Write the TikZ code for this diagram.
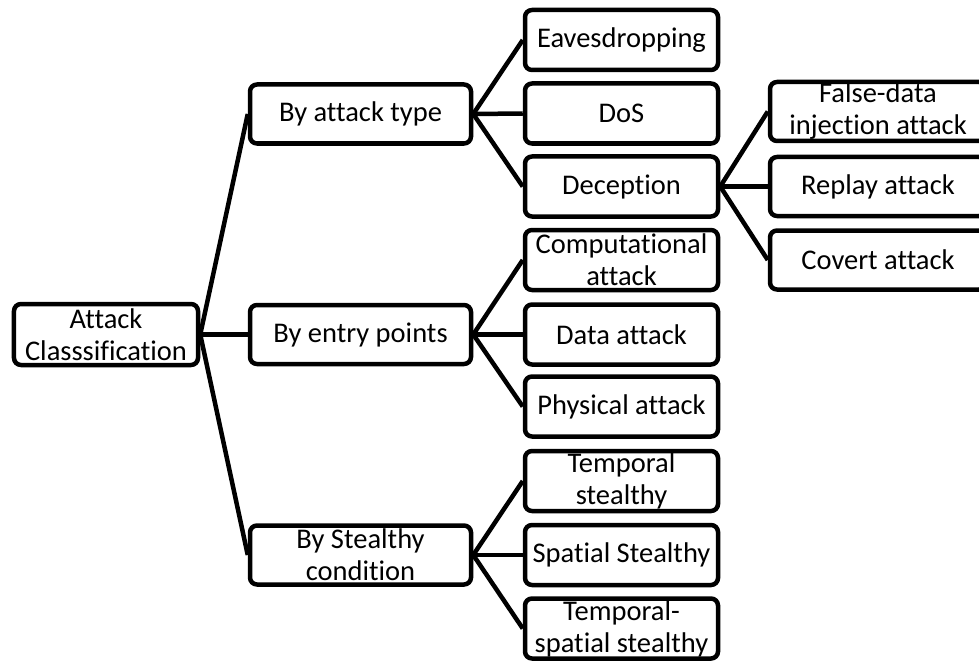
\documentclass[tikz,border=0pt]{standalone}
\usepackage{fontspec}
\setmainfont[Ligatures=NoCommon]{Carlito}
\begin{document}
\begin{tikzpicture}[x=1bp,y=-1bp,
  box/.style={draw=black, line width=4.5bp, rounded corners=7bp, fill=white,
    inner sep=0pt, align=center, font=\fontsize{28.5bp}{32bp}\selectfont},
  rootbox/.style={box, minimum width=184bp, minimum height=61bp},
  catbox/.style={box, minimum width=221bp, minimum height=59bp},
  leafbox/.style={box, minimum width=193bp, minimum height=60bp},
  subbox/.style={box, minimum width=216bp, minimum height=59bp},
  link/.style={line width=4.5bp, black}]
\useasboundingbox (0,0) rectangle (979,661);
\clip (0,0) rectangle (979,661);

% root
\node[rootbox] (root) at (106,334.5) {Attack\\Classsification};

% first level
\node[catbox] (type)  at (360.5,114)   {By attack type};
\node[catbox] (entry) at (360.5,334.5) {By entry points};
\node[catbox] (stl)   at (360.5,555)   {By Stealthy\\condition};

% attack types
\node[leafbox] (eav) at (621.5,40)    {Eavesdropping};
\node[leafbox] (dos) at (621.5,113.5) {DoS};
\node[leafbox] (dec) at (621.5,186.5) {Deception};

% entry points
\node[leafbox] (comp) at (621.5,260)   {Computational\\attack};
\node[leafbox] (data) at (621.5,334.5) {Data attack};
\node[leafbox] (phys) at (621.5,406.5) {Physical attack};

% stealthy conditions
\node[leafbox] (temp) at (621.5,481)   {Temporal\\stealthy};
\node[leafbox] (spat) at (621.5,555)   {Spatial Stealthy};
\node[leafbox] (tsp)  at (621.5,628.5) {Temporal-\\spatial stealthy};

% deception attacks
\node[subbox] (fdi) at (878,111.5) {False-data\\injection attack};
\node[subbox] (rep) at (878,186.5) {Replay attack};
\node[subbox] (cov) at (878,260)   {Covert attack};

% connectors
\foreach \c in {type,entry,stl} \draw[link] (root.east) -- (\c.west);
\foreach \c in {eav,dos,dec} \draw[link] (type.east) -- (\c.west);
\foreach \c in {comp,data,phys} \draw[link] (entry.east) -- (\c.west);
\foreach \c in {temp,spat,tsp} \draw[link] (stl.east) -- (\c.west);
\foreach \c in {fdi,rep,cov} \draw[link] (dec.east) -- (\c.west);
\end{tikzpicture}
\end{document}
